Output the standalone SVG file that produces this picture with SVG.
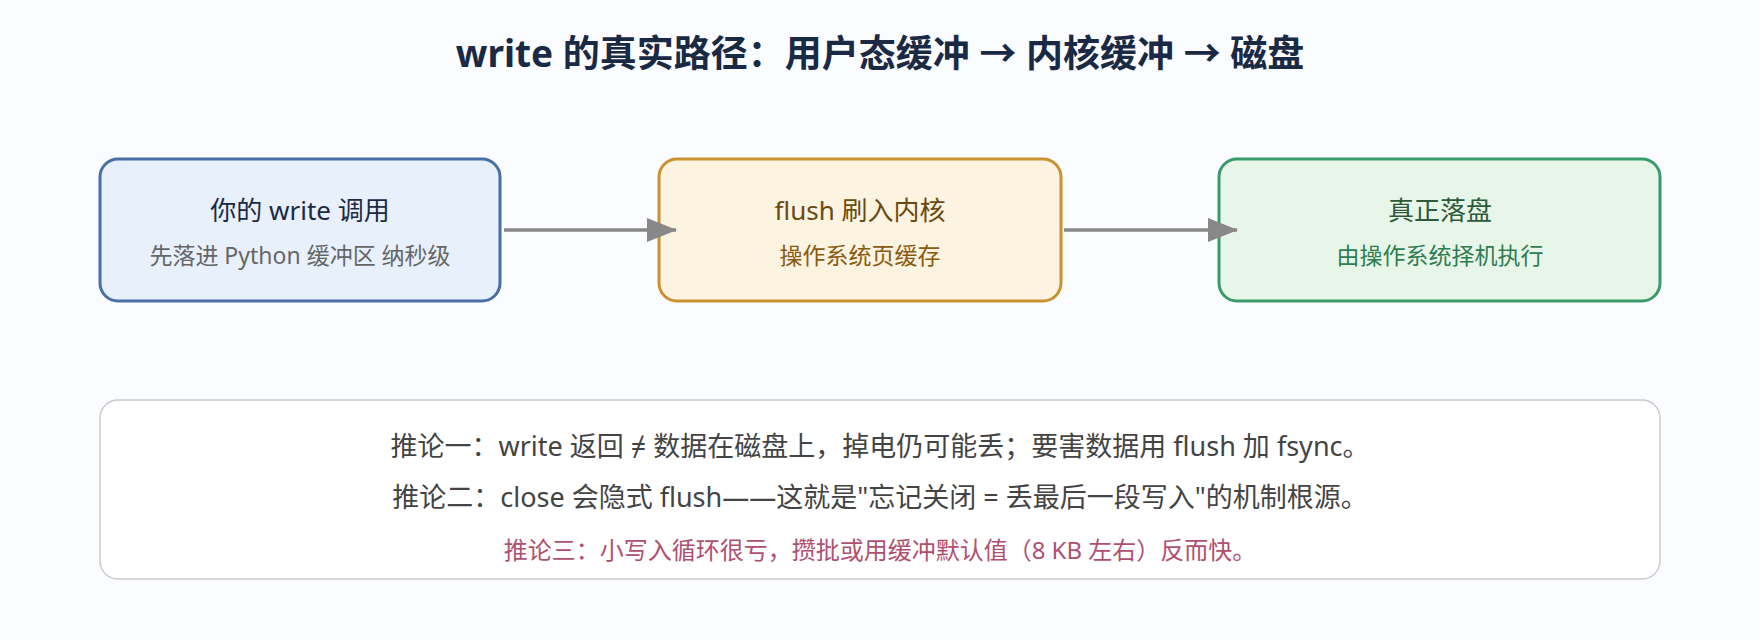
<svg xmlns="http://www.w3.org/2000/svg" width="1760" height="640" viewBox="0 0 1760 640">
<style>
text{font-family:"Noto Sans","Noto Sans CJK SC",sans-serif;text-anchor:middle}
.t{font-size:26px}.s{font-size:23px}.b{font-size:27px;fill:#444}
</style>
<defs><marker id="ah" markerWidth="30" markerHeight="24" refX="29" refY="12" orient="auto" markerUnits="userSpaceOnUse" viewBox="0 0 30 24"><path d="M0,0L30,12L0,24z" fill="#888"/></marker></defs>
<rect width="1760" height="640" fill="#fafcff"/>
<text x="880" y="67" font-size="37" font-weight="bold" fill="#1a2a44">write 的真实路径：用户态缓冲 → 内核缓冲 → 磁盘</text>
<g id="n1"><rect x="100" y="159" width="400" height="142" rx="18" fill="#e8f0fc" stroke="#4a6fa5" stroke-width="3"/>
<text x="300" y="220" class="t" fill="#1a2a44">你的 write 调用</text><text x="300" y="264" class="s" fill="#666">先落进 Python 缓冲区 纳秒级</text></g>
<g id="n2"><rect x="659" y="159" width="402" height="142" rx="18" fill="#fdf3e1" stroke="#c9922e" stroke-width="3"/>
<text x="860" y="220" class="t" fill="#6b4a10">flush 刷入内核</text><text x="860" y="264" class="s" fill="#8a5a10">操作系统页缓存</text></g>
<g id="n3"><rect x="1219" y="159" width="441" height="142" rx="18" fill="#e8f6ea" stroke="#3a9a6a" stroke-width="3"/>
<text x="1440" y="220" class="t" fill="#2d5a3a">真正落盘</text><text x="1440" y="264" class="s" fill="#2e7d4f">由操作系统择机执行</text></g>
<g id="connectors" stroke="#888" stroke-width="3.5" fill="none">
<path d="M504,230H676" marker-end="url(#ah)"/>
<path d="M1064,230H1237" marker-end="url(#ah)"/>
</g>
<g id="notes"><rect x="100" y="400" width="1560" height="179" rx="18" fill="#fff" stroke="#ccc" stroke-width="1.5"/>
<text x="880" y="456" class="b">推论一：write 返回 ≠ 数据在磁盘上，掉电仍可能丢；要害数据用 flush 加 fsync。</text>
<text x="880" y="507" class="b">推论二：close 会隐式 flush——这就是"忘记关闭 = 丢最后一段写入"的机制根源。</text>
<text x="880" y="559" font-size="24" fill="#b05070">推论三：小写入循环很亏，攒批或用缓冲默认值（8 KB 左右）反而快。</text></g>
</svg>
